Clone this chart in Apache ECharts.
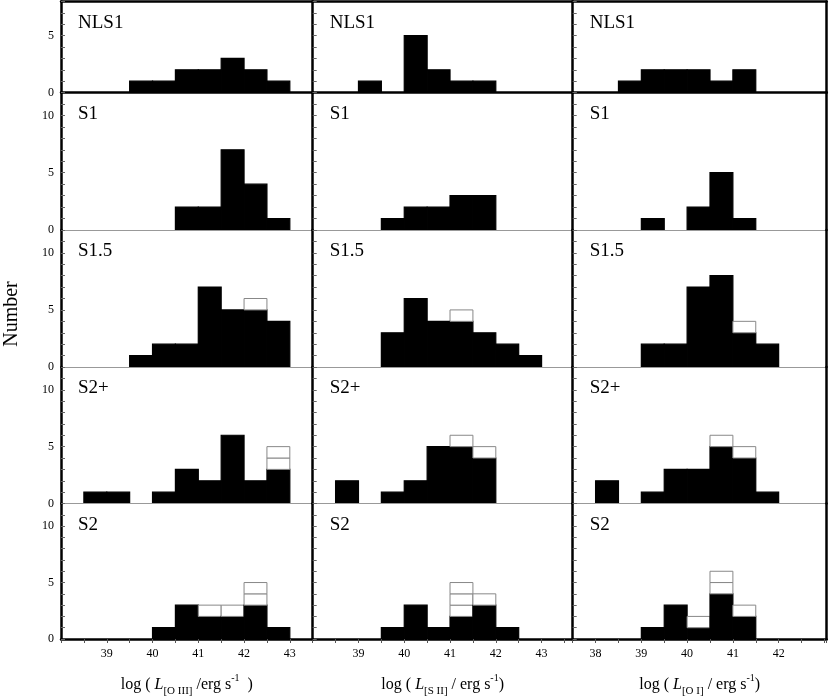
<!DOCTYPE html>
<html>
<head>
<meta charset="utf-8">
<script src="https://cdn.jsdelivr.net/npm/echarts@6/dist/echarts.min.js"></script>
<style>html,body{margin:0;padding:0;background:#fff;}#c{width:830px;height:698px;}</style>
</head>
<body>
<div id="c"></div>
<script>
// ---- data: bin starts (bin width 0.5) and counts ----
const BIN_WIDTH = 0.5;
const BINS_OIII = [38, 38.5, 39, 39.5, 40, 40.5, 41, 41.5, 42, 42.5, 43];
const OIII_NLS1 = [0, 0, 0, 1, 1, 2, 2, 3, 2, 1, 0];
const OIII_NLS1_OPEN = [0, 0, 0, 0, 0, 0, 0, 0, 0, 0, 0];
const OIII_S1 = [0, 0, 0, 0, 0, 2, 2, 7, 4, 1, 0];
const OIII_S1_OPEN = [0, 0, 0, 0, 0, 0, 0, 0, 0, 0, 0];
const OIII_S15 = [0, 0, 0, 1, 2, 2, 7, 5, 5, 4, 0];
const OIII_S15_OPEN = [0, 0, 0, 0, 0, 0, 0, 0, 1, 0, 0];
const OIII_S2P = [0, 1, 1, 0, 1, 3, 2, 6, 2, 3, 0];
const OIII_S2P_OPEN = [0, 0, 0, 0, 0, 0, 0, 0, 0, 2, 0];
const OIII_S2 = [0, 0, 0, 0, 1, 3, 2, 2, 3, 1, 0];
const OIII_S2_OPEN = [0, 0, 0, 0, 0, 0, 1, 1, 2, 0, 0];

const BINS_SII = [38, 38.5, 39, 39.5, 40, 40.5, 41, 41.5, 42, 42.5, 43, 43.5];
const SII_NLS1 = [0, 0, 1, 0, 5, 2, 1, 1, 0, 0, 0, 0];
const SII_NLS1_OPEN = [0, 0, 0, 0, 0, 0, 0, 0, 0, 0, 0, 0];
const SII_S1 = [0, 0, 0, 1, 2, 2, 3, 3, 0, 0, 0, 0];
const SII_S1_OPEN = [0, 0, 0, 0, 0, 0, 0, 0, 0, 0, 0, 0];
const SII_S15 = [0, 0, 0, 3, 6, 4, 4, 3, 2, 1, 0, 0];
const SII_S15_OPEN = [0, 0, 0, 0, 0, 0, 1, 0, 0, 0, 0, 0];
const SII_S2P = [0, 2, 0, 1, 2, 5, 5, 4, 0, 0, 0, 0];
const SII_S2P_OPEN = [0, 0, 0, 0, 0, 0, 1, 1, 0, 0, 0, 0];
const SII_S2 = [0, 0, 0, 1, 3, 1, 2, 3, 1, 0, 0, 0];
const SII_S2_OPEN = [0, 0, 0, 0, 0, 0, 3, 1, 0, 0, 0, 0];

const BINS_OI = [37.5, 38, 38.5, 39, 39.5, 40, 40.5, 41, 41.5, 42, 42.5];
const OI_NLS1 = [0, 0, 1, 2, 2, 2, 1, 2, 0, 0, 0];
const OI_NLS1_OPEN = [0, 0, 0, 0, 0, 0, 0, 0, 0, 0, 0];
const OI_S1 = [0, 0, 0, 1, 0, 2, 5, 1, 0, 0, 0];
const OI_S1_OPEN = [0, 0, 0, 0, 0, 0, 0, 0, 0, 0, 0];
const OI_S15 = [0, 0, 0, 2, 2, 7, 8, 3, 2, 0, 0];
const OI_S15_OPEN = [0, 0, 0, 0, 0, 0, 0, 1, 0, 0, 0];
const OI_S2P = [0, 2, 0, 1, 3, 3, 5, 4, 1, 0, 0];
const OI_S2P_OPEN = [0, 0, 0, 0, 0, 0, 1, 1, 0, 0, 0];
const OI_S2 = [0, 0, 0, 1, 3, 1, 4, 2, 0, 0, 0];
const OI_S2_OPEN = [0, 0, 0, 0, 0, 1, 2, 1, 0, 0, 0];

const ROW_NAMES = ['NLS1', 'S1', 'S1.5', 'S2+', 'S2'];
const Y_LABELS = [0, 5, 10];
const X_LABELS_OIII = [39, 40, 41, 42, 43];
const X_LABELS_SII = [39, 40, 41, 42, 43];
const X_LABELS_OI = [38, 39, 40, 41, 42];

// ---- layout ----
const FONT = '"Liberation Serif", "DejaVu Serif", serif';
const COLS = [
  {left: 61, width: 251.7, min: 38, max: 43.5, bins: BINS_OIII, labels: X_LABELS_OIII,
   filled: [OIII_NLS1, OIII_S1, OIII_S15, OIII_S2P, OIII_S2],
   open: [OIII_NLS1_OPEN, OIII_S1_OPEN, OIII_S15_OPEN, OIII_S2P_OPEN, OIII_S2_OPEN],
   name: '{t|log ( }{i|L}{s|[O III]}{t| /erg s}{p|-1}{t|  )}'},
  {left: 312.7, width: 260, min: 38, max: 43.68, bins: BINS_SII, labels: X_LABELS_SII,
   filled: [SII_NLS1, SII_S1, SII_S15, SII_S2P, SII_S2],
   open: [SII_NLS1_OPEN, SII_S1_OPEN, SII_S15_OPEN, SII_S2P_OPEN, SII_S2_OPEN],
   name: '{t|log ( }{i|L}{s|[S II]}{t| / erg s}{p|-1}{t|)}'},
  {left: 572.7, width: 254, min: 37.5, max: 43.05, bins: BINS_OI, labels: X_LABELS_OI,
   filled: [OI_NLS1, OI_S1, OI_S15, OI_S2P, OI_S2],
   open: [OI_NLS1_OPEN, OI_S1_OPEN, OI_S15_OPEN, OI_S2P_OPEN, OI_S2_OPEN],
   name: '{t|log ( }{i|L}{s|[O I]}{t| / erg s}{p|-1}{t|)}'}
];
const ROWS = [
  {top: 1.5, height: 91, max: 8},
  {top: 92.5, height: 137.5, max: 12},
  {top: 230, height: 137, max: 12},
  {top: 367, height: 136.5, max: 12},
  {top: 503.5, height: 138, max: 12}
];

const grid = [], xAxis = [], yAxis = [], series = [], title = [];

const rich = {
  t: {fontFamily: FONT, fontSize: 16, color: '#000', lineHeight: 24, verticalAlign: 'middle'},
  i: {fontFamily: FONT, fontSize: 16, fontStyle: 'italic', color: '#000', lineHeight: 24, verticalAlign: 'middle'},
  s: {fontFamily: FONT, fontSize: 11, color: '#000', lineHeight: 10, verticalAlign: 'bottom'},
  p: {fontFamily: FONT, fontSize: 10, color: '#000', lineHeight: 12, verticalAlign: 'top'}
};

function renderRect(params, api) {
  const a = api.coord([api.value(0), api.value(3)]);
  const b = api.coord([api.value(1), api.value(2)]);
  const open = api.value(4) === 1;
  return {
    type: 'rect',
    shape: {x: a[0], y: a[1], width: b[0] - a[0], height: b[1] - a[1]},
    style: open ? {fill: '#fff', stroke: '#888', lineWidth: 1}
                : {fill: '#000', stroke: '#000', lineWidth: 1.2}
  };
}

ROWS.forEach((row, r) => {
  COLS.forEach((col, c) => {
    const gi = grid.length;
    grid.push({left: col.left, top: row.top, width: col.width, height: row.height, containLabel: false});
    const last = r === ROWS.length - 1;
    const thickBottom = r === 0 || last;
    const xi = xAxis.length;
    const xa = {
      type: 'value', gridIndex: gi, min: col.min, max: col.max, interval: 0.5, position: 'bottom',
      axisLine: {show: true, onZero: false, lineStyle: {color: thickBottom ? '#000' : '#999', width: thickBottom ? 2.5 : 1}},
      axisTick: last ? {show: true, inside: false, length: 4, lineStyle: {color: '#555', width: 1}} : {show: false},
      axisLabel: last ? {show: true, margin: 9, fontFamily: FONT, fontSize: 12, color: '#000',
                         formatter: v => col.labels.includes(v) ? String(v) : ''} : {show: false},
      splitLine: {show: false}, z: 3
    };
    if (last) {
      xa.name = col.name;
      xa.nameLocation = 'middle';
      xa.nameGap = 34;
      xa.nameTextStyle = {rich: rich};
    }
    xAxis.push(xa);
    if (r === 0) {
      xAxis.push({type: 'value', gridIndex: gi, min: col.min, max: col.max, position: 'top',
        axisLine: {show: true, onZero: false, lineStyle: {color: '#000', width: 2.5}},
        axisTick: {show: false}, axisLabel: {show: false}, splitLine: {show: false}, z: 3});
    }
    const yi = yAxis.length;
    yAxis.push({
      type: 'value', gridIndex: gi, min: 0, max: row.max, interval: 1, position: 'left',
      axisLine: {show: true, onZero: false, lineStyle: {color: '#000', width: 2.5}},
      axisTick: {show: true, inside: true, length: 4, lineStyle: {color: '#666', width: 1}},
      axisLabel: c === 0 ? {show: true, margin: 7, fontFamily: FONT, fontSize: 12, color: '#000',
                            formatter: v => Y_LABELS.includes(v) ? String(v) : ''} : {show: false},
      splitLine: {show: false}, z: 4
    });
    if (c === COLS.length - 1) {
      yAxis.push({type: 'value', gridIndex: gi, min: 0, max: row.max, position: 'right',
        axisLine: {show: true, onZero: false, lineStyle: {color: '#000', width: 2.5}},
        axisTick: {show: false}, axisLabel: {show: false}, splitLine: {show: false}, z: 4});
    }
    const data = [];
    const filled = col.filled[r], open = col.open[r];
    col.bins.forEach((b, k) => {
      if (filled[k] > 0) data.push([b, b + BIN_WIDTH, 0, filled[k], 0]);
      for (let u = 0; u < open[k]; u++) data.push([b, b + BIN_WIDTH, filled[k] + u, filled[k] + u + 1, 1]);
    });
    series.push({type: 'custom', xAxisIndex: xi, yAxisIndex: yi, renderItem: renderRect,
      data: data, silent: true, animation: false, z: 2});
    title.push({text: ROW_NAMES[r], left: col.left + 17, top: row.top + 12, padding: 0,
      textStyle: {fontFamily: FONT, fontSize: 19, fontWeight: 'normal', color: '#000'}});
  });
});

const chart = echarts.init(document.getElementById('c'), null, {renderer: 'canvas'});
chart.setOption({
  backgroundColor: '#fff',
  animation: false,
  title: title,
  grid: grid,
  xAxis: xAxis,
  yAxis: yAxis,
  series: series,
  graphic: [{
    type: 'text', x: 12, y: 314, rotation: Math.PI / 2,
    style: {text: 'Number', font: '20px ' + FONT, fill: '#000', textAlign: 'center', textVerticalAlign: 'middle'}
  }]
});
</script>
</body>
</html>
